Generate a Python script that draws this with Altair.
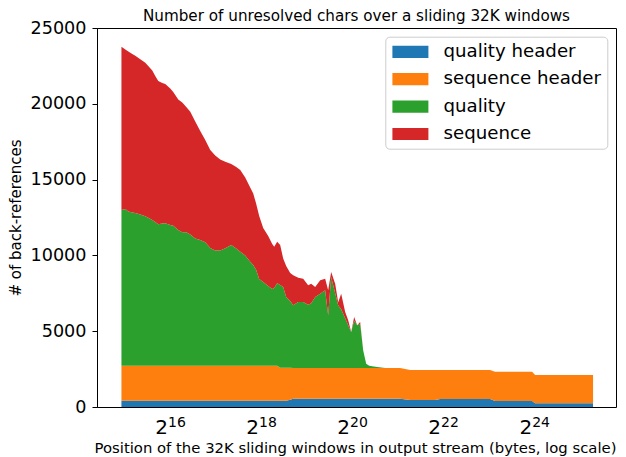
import altair as alt
import pandas as pd

TITLE = "Number of unresolved chars over a sliding 32K windows"
X_TITLE = "Position of the 32K sliding windows in output stream (bytes, log scale)"
Y_TITLE = "# of back-references"

# x positions: log2 of the window position (bytes)
X_LOG2 = [15.0, 15.085, 15.151, 15.238, 15.304, 15.414, 15.524, 15.589, 15.677, 15.743,
          15.809, 15.897, 15.963, 16.072, 16.138, 16.248, 16.336, 16.424, 16.512, 16.621,
          16.731, 16.841, 16.951, 17.060, 17.170, 17.281, 17.412, 17.522, 17.610, 17.719,
          17.829, 17.895, 17.961, 18.026, 18.114, 18.224, 18.312, 18.356, 18.421, 18.487,
          18.553, 18.619, 18.707, 18.773, 18.883, 18.992, 19.102, 19.168, 19.256, 19.366,
          19.475, 19.541, 19.607, 19.695, 19.761, 19.827, 19.915, 19.981, 20.047, 20.112,
          20.178, 20.244, 20.310, 20.376, 20.442, 20.508, 20.617, 20.793, 21.123, 21.342,
          21.562, 21.891, 22.001, 22.440, 22.879, 23.098, 23.208, 23.538, 24.021, 24.087,
          24.416, 24.855, 25.360]

QUALITY_HEADER = [420] * 42 + [480] + [540] * 26 + [470] * 3 + [520] * 4 + [400] * 3 + [250] * 4

SEQUENCE_HEADER = [2300] * 39 + [2170] * 3 + [2110] + [2030] * 26 + [1970] * 3 + [1920] * 4 + [1930] * 3 + [1860] * 4

QUALITY = [10270, 10336, 10171, 10118, 10072, 9973, 9861, 9762, 9610, 9479,
           9327, 9380, 9393, 9281, 9234, 8951, 8799, 8799, 8654, 8403,
           8291, 8140, 7764, 7599, 7599, 7744, 7961, 7731, 7519, 7269,
           6860, 6642, 6312, 5719, 5521, 5257, 5059, 5125, 5435, 5455,
           5323, 4663, 4400, 4136, 4353, 4353, 4169, 4268, 4683, 4907,
           5125, 3476, 6002, 4927, 4136, 3872, 3278, 2816, 2375, 3113,
           2816, 2929, 1167, 290, 145, 110, 66, 0, 0, 0,
           0, 0, 0, 0, 0, 0, 0, 0, 0, 0,
           0, 0, 0]

SEQUENCE = [10771, 10521, 10554, 10455, 10375, 10244, 10125, 10019, 9861, 9643,
            9452, 9267, 9188, 9004, 8819, 8608, 8562, 8265, 8100, 7704,
            7190, 6748, 6464, 6266, 6002, 5706, 5356, 5376, 5389, 5145,
            4894, 4729, 4353, 4155, 3562, 3298, 2968, 2724, 2744, 2638,
            1880, 2045, 1847, 1979, 1609, 1543, 1286, 1299, 660, 877,
            772, 1649, 330, 640, 198, 1036, 416, 330, 0, 251,
            0, 106, 0, 0, 0, 0, 0, 0, 0, 0,
            0, 0, 0, 0, 0, 0, 0, 0, 0, 0,
            0, 0, 0]

SERIES = ["quality header", "sequence header", "quality", "sequence"]
COLORS = ["#1f77b4", "#ff7f0e", "#2ca02c", "#d62728"]
X_TICKS_LOG2 = [16, 18, 20, 22, 24]
Y_TICKS = [0, 5000, 10000, 15000, 20000, 25000]

rows = []
for i, (name, vals) in enumerate(zip(SERIES, [QUALITY_HEADER, SEQUENCE_HEADER, QUALITY, SEQUENCE])):
    for e, v in zip(X_LOG2, vals):
        rows.append({"pos": 2 ** e, "value": v, "series": name, "idx": i})
df = pd.DataFrame(rows)

ticks_df = pd.DataFrame({
    "pos": [2 ** e for e in X_TICKS_LOG2],
    "base": ["2"] * len(X_TICKS_LOG2),
    "exp": [str(e) for e in X_TICKS_LOG2],
})
titles_df = pd.DataFrame({"title": [TITLE], "xtitle": [X_TITLE]})

FONT = "DejaVu Sans"
W, H = 519, 379

xscale = alt.Scale(type="log", base=2, domain=[2 ** 14.463, 2 ** 25.864], nice=False, zero=False)

area = alt.Chart(df).mark_area(interpolate="linear").encode(
    x=alt.X("pos:Q", scale=xscale,
            axis=alt.Axis(values=[2 ** e for e in X_TICKS_LOG2], labels=False, title=None)),
    y=alt.Y("value:Q", stack="zero",
            scale=alt.Scale(domain=[0, 25000], nice=False),
            axis=alt.Axis(values=Y_TICKS, format="d", title=Y_TITLE,
                          titleX=-81.5, titleY=H / 2, titleAngle=270, titleAlign="center",
                          titleBaseline="middle")),
    color=alt.Color("series:N", scale=alt.Scale(domain=SERIES, range=COLORS),
                    legend=alt.Legend(title=None, orient="none", legendX=288.3, legendY=8.7,
                                      symbolType="M-2,-0.68H2V0.68H-2Z", symbolSize=324,
                                      symbolStrokeWidth=0, symbolOpacity=1, symbolOffset=10,
                                      labelFontSize=18.2, labelFont=FONT, labelColor="black",
                                      labelOffset=24, rowPadding=8.4, padding=6, titlePadding=0,
                                      strokeColor="#cccccc", fillColor="white", cornerRadius=4)),
    order=alt.Order("idx:Q", sort="ascending"),
)

tick_base = alt.Chart(ticks_df).mark_text(
    align="right", baseline="alphabetic", fontSize=20, font=FONT, color="black", dx=1
).encode(x=alt.X("pos:Q", scale=xscale, axis=None), y=alt.value(H + 27), text="base:N")

tick_exp = alt.Chart(ticks_df).mark_text(
    align="left", baseline="alphabetic", fontSize=14, font=FONT, color="black", dx=1
).encode(x=alt.X("pos:Q", scale=xscale, axis=None), y=alt.value(H + 20), text="exp:N")

title_mark = alt.Chart(titles_df).mark_text(
    align="center", baseline="alphabetic", fontSize=15.2, font=FONT, color="black"
).encode(x=alt.value(W / 2), y=alt.value(-7), text="title:N")

xtitle_mark = alt.Chart(titles_df).mark_text(
    align="center", baseline="alphabetic", fontSize=14.85, font=FONT, color="black"
).encode(x=alt.value(258.5), y=alt.value(H + 46), text="xtitle:N")

chart = alt.layer(area, tick_base, tick_exp, title_mark, xtitle_mark).properties(
    width=W, height=H,
    autosize="none",
    padding={"left": 89, "top": 20, "right": 2, "bottom": 50},
).configure_view(
    stroke="black", strokeWidth=1
).configure_axis(
    grid=False, domainColor="black", tickColor="black", labelColor="black", titleColor="black",
    tickSize=5, labelFontSize=17.6, titleFontSize=15, labelFont=FONT, titleFont=FONT,
    titleFontWeight="normal", labelPadding=6
)

chart.save("out.html", embed_options={"renderer": "svg", "actions": False})
